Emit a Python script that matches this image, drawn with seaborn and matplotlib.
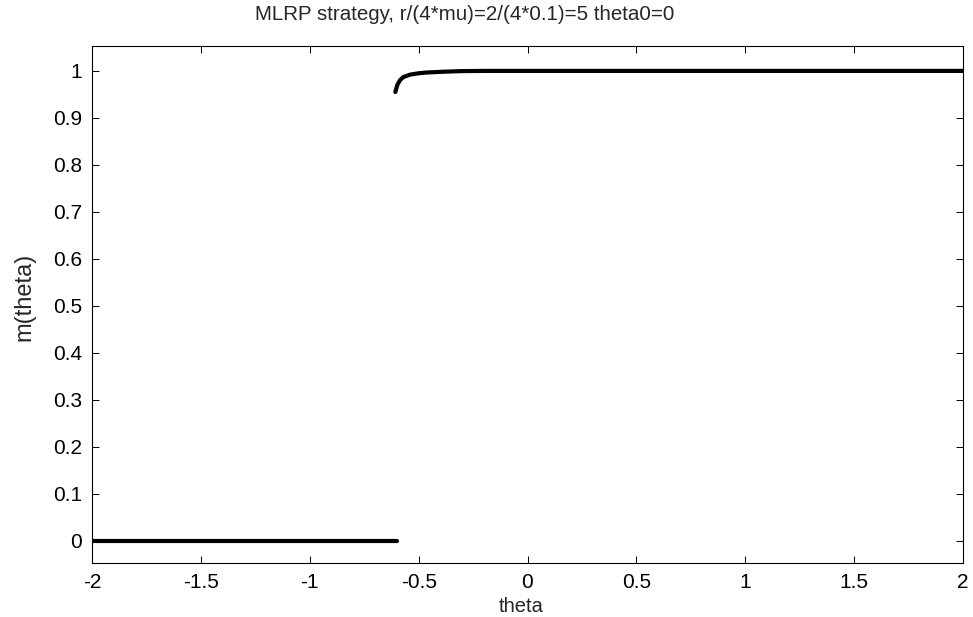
import matplotlib
matplotlib.use("Agg")
import matplotlib.pyplot as plt
import seaborn as sns
import pandas as pd

# data
theta_low = [-2.0, -1.5, -1.0, -0.6]
m_low = [0.0, 0.0, 0.0, 0.0]
theta_high = [-0.607, -0.598, -0.586, -0.570, -0.540, -0.500, -0.463, -0.400,
              -0.310, -0.200, 0.0, 0.5, 1.0, 1.5, 2.0]
m_high = [0.955, 0.970, 0.980, 0.987, 0.992, 0.995, 0.9966, 0.998,
          0.9995, 1.0, 1.0, 1.0, 1.0, 1.0, 1.0]
x_ticks = [-2, -1.5, -1, -0.5, 0, 0.5, 1, 1.5, 2]
y_ticks = [0, 0.1, 0.2, 0.3, 0.4, 0.5, 0.6, 0.7, 0.8, 0.9, 1]
title = "MLRP strategy, r/(4*mu)=2/(4*0.1)=5 theta0=0"

sns.set_theme(style="ticks")
plt.rcParams['font.family'] = ['Liberation Sans', 'DejaVu Sans']

fig = plt.figure(figsize=(9.73, 6.17), dpi=100)
ax = fig.add_axes([92/973, 1 - 563/617, (963-92)/973, (563-46)/617])

df_low = pd.DataFrame({"theta": theta_low, "m": m_low})
df_high = pd.DataFrame({"theta": theta_high, "m": m_high})
for d in (df_low, df_high):
    sns.lineplot(data=d, x="theta", y="m", ax=ax, color="black", linewidth=3.0,
                 solid_capstyle="round", sort=False, estimator=None)

ax.set_xlim(-2, 2)
ax.set_ylim(-0.047, 1.053)
ax.set_xticks(x_ticks)
ax.set_xticklabels(["-2", "-1.5", "-1", "-0.5", "0", "0.5", "1", "1.5", "2"])
ax.set_yticks(y_ticks)
ax.set_yticklabels(["0", "0.1", "0.2", "0.3", "0.4", "0.5", "0.6", "0.7", "0.8", "0.9", "1"])
ax.tick_params(direction="in", length=5, width=0.7, top=True, right=True,
               labelsize=15, colors="black", pad=7)
for s in ax.spines.values():
    s.set_visible(True)
    s.set_linewidth(0.8)
    s.set_color("black")

ax.set_xlabel("theta", fontsize=14.5, labelpad=4, x=0.493)
ax.set_ylabel("m(theta)", fontsize=17, labelpad=13, y=0.514)
ax.set_title(title, fontsize=14.8, pad=19, x=0.428)

fig.savefig("out.png", dpi=100, facecolor="white")
